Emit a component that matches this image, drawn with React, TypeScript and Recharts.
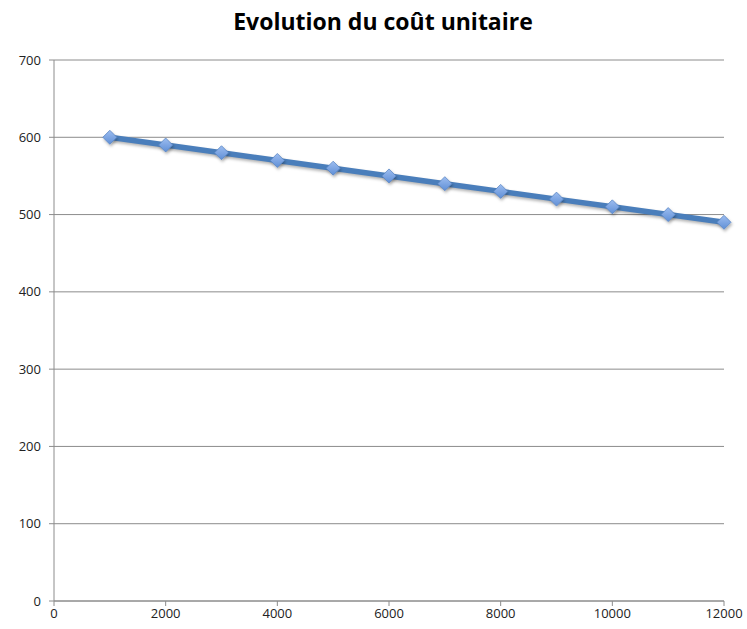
import React from "react";
import { LineChart, Line, XAxis, YAxis, CartesianGrid } from "recharts";

const quantities = [1000, 2000, 3000, 4000, 5000, 6000, 7000, 8000, 9000, 10000, 11000, 12000];
const unitCost = [600, 590, 580, 570, 560, 550, 540, 530, 520, 510, 500, 490];
const xTicks = [0, 2000, 4000, 6000, 8000, 10000, 12000];
const yTicks = [0, 100, 200, 300, 400, 500, 600, 700];

const data = quantities.map((q, i) => ({ q, cost: unitCost[i] }));

const Diamond = (props: any) => {
  const { cx, cy } = props;
  if (cx == null || cy == null) return null;
  const r = 7;
  return (
    <polygon
      points={`${cx},${cy - r} ${cx + r},${cy} ${cx},${cy + r} ${cx - r},${cy}`}
      fill="url(#diamondGrad)"
      stroke="#5b86c4"
      strokeWidth={0.8}
      filter="url(#shadow)"
    />
  );
};

const tickStyle = { fontFamily: "'Open Sans', sans-serif", fontSize: 13, fill: "#222" };

export default function App() {
  return (
    <div style={{ position: "absolute", left: 0, top: 0, width: 747, height: 629, background: "#fff" }}>
      <div
        style={{
          position: "absolute",
          left: 0,
          top: 5,
          width: 766,
          textAlign: "center",
          fontFamily: "'Open Sans', sans-serif",
          fontWeight: 700,
          fontSize: 23,
          color: "#000",
        }}
      >
        Evolution du coût unitaire
      </div>
      <LineChart width={747} height={629} data={data} margin={{ top: 60, right: 23, bottom: 0, left: 0 }}>
        <defs>
          <linearGradient id="diamondGrad" x1="0" y1="0" x2="0" y2="1">
            <stop offset="0%" stopColor="#9dbdf0" />
            <stop offset="100%" stopColor="#5f8fd6" />
          </linearGradient>
          <filter id="shadow" x="-50%" y="-50%" width="200%" height="200%">
            <feDropShadow dx="1" dy="2" stdDeviation="1.5" floodColor="#000" floodOpacity="0.3" />
          </filter>
        </defs>
        <CartesianGrid vertical={false} stroke="#8c8c8c" strokeWidth={1} />
        <XAxis
          dataKey="q"
          type="number"
          domain={[0, 12000]}
          ticks={xTicks}
          height={28}
          tickSize={5}
          tickMargin={3}
          stroke="#8c8c8c"
          tick={tickStyle}
          interval={0}
        />
        <YAxis
          type="number"
          domain={[0, 700]}
          ticks={yTicks}
          width={54}
          tickSize={5}
          tickMargin={8}
          stroke="#8c8c8c"
          tick={tickStyle}
          interval={0}
        />
        <Line
          dataKey="cost"
          stroke="#4a7ebb"
          strokeWidth={5.5}
          dot={<Diamond />}
          activeDot={false}
          isAnimationActive={false}
          style={{ filter: "drop-shadow(1px 2px 1.5px rgba(0,0,0,0.3))" }}
        />
      </LineChart>
    </div>
  );
}
